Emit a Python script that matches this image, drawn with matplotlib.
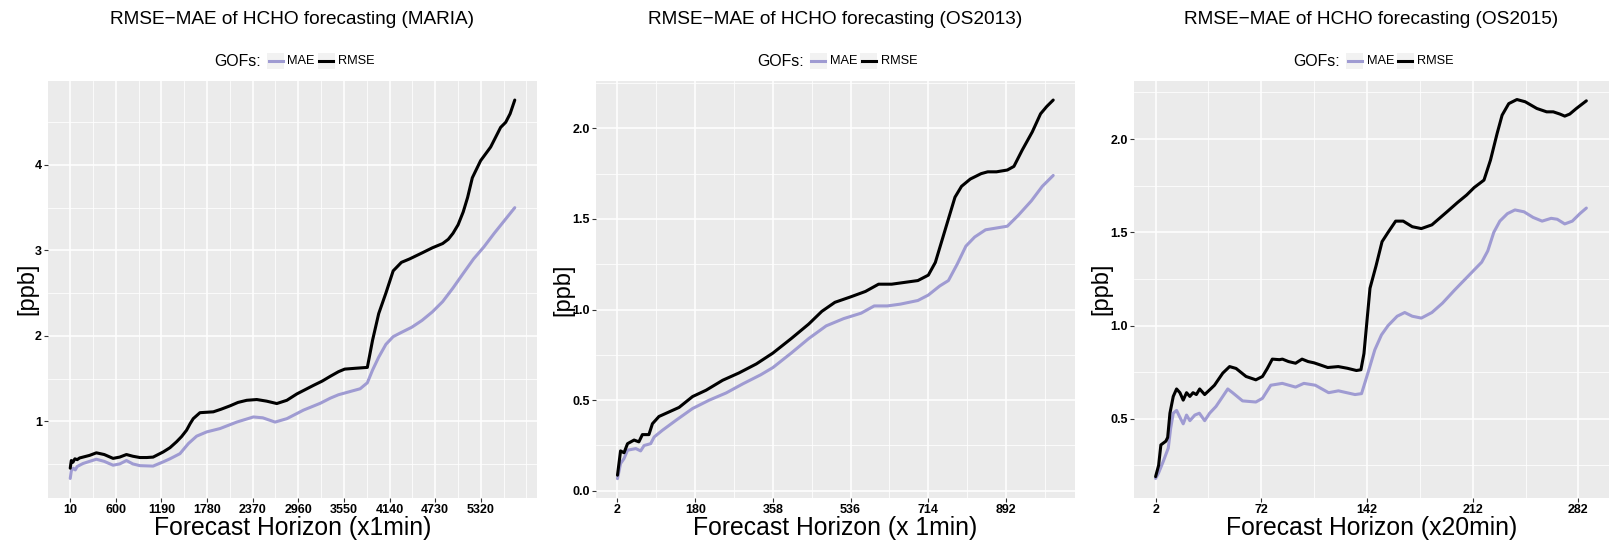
import matplotlib
matplotlib.use("Agg")
import matplotlib.pyplot as plt
from matplotlib.lines import Line2D
from matplotlib.patches import Rectangle

plt.rcParams['font.family'] = ['Liberation Sans', 'DejaVu Sans']

# ------------------------------------------------------------------ data
titles = ["RMSE\u2212MAE of HCHO forecasting (MARIA)",
          "RMSE\u2212MAE of HCHO forecasting (OS2013)",
          "RMSE\u2212MAE of HCHO forecasting (OS2015)"]
xlabels = ["Forecast Horizon (x1min)", "Forecast Horizon (x 1min)", "Forecast Horizon (x20min)"]
ylabel = "[ppb]"
legend_title = "GOFs:"
series_names = ["MAE", "RMSE"]

maria_xticks = [10, 600, 1190, 1780, 2370, 2960, 3550, 4140, 4730, 5320]
maria_yticks = [1, 2, 3, 4]
maria_yticklabels = ["1", "2", "3", "4"]
os13_xticks = [2, 180, 358, 536, 714, 892]
os13_yticks = [0.0, 0.5, 1.0, 1.5, 2.0]
os13_yticklabels = ["0.0", "0.5", "1.0", "1.5", "2.0"]
os15_xticks = [2, 72, 142, 212, 282]
os15_yticks = [0.5, 1.0, 1.5, 2.0]
os15_yticklabels = ["0.5", "1.0", "1.5", "2.0"]

maria_rmse_h = [10, 24, 45, 70, 100, 132, 175, 260, 348, 450, 564, 650, 737, 820, 910, 1000, 1082,
                1212, 1300, 1386, 1450, 1515, 1560, 1601, 1688, 1861, 1960, 2077, 2180, 2293, 2423,
                2550, 2682, 2812, 2942, 3050, 3157, 3270, 3374, 3480, 3560, 3700, 3853, 3921, 4000,
                4093, 4187, 4294, 4400, 4560, 4694, 4827, 4900, 4961, 5027, 5093, 5150,
                5211, 5318, 5448, 5577, 5643, 5700, 5760]
maria_rmse = [0.45, 0.54, 0.52, 0.56, 0.55, 0.57, 0.58, 0.60, 0.63, 0.61, 0.565, 0.58, 0.61, 0.59,
              0.575, 0.575, 0.58, 0.64, 0.69, 0.76, 0.82, 0.895, 0.97, 1.03, 1.10, 1.11, 1.14, 1.18,
              1.22, 1.245, 1.254, 1.235, 1.207, 1.245, 1.32, 1.37, 1.42, 1.47, 1.526, 1.58, 1.61,
              1.62, 1.63, 1.95, 2.26, 2.50, 2.76, 2.86, 2.90, 2.97, 3.03, 3.08, 3.13,
              3.2, 3.3, 3.45, 3.62, 3.85, 4.05, 4.21, 4.44, 4.50, 4.6, 4.76]
maria_mae_h = [10, 24, 50, 75, 100, 175, 260, 348, 450, 564, 650, 737, 820, 910, 1082, 1212, 1300,
               1429, 1540, 1645, 1775, 1947, 2164, 2379, 2500, 2660, 2812, 3027, 3244, 3374, 3480,
               3600, 3760, 3853, 3921, 4000, 4093, 4187, 4294, 4427, 4560, 4694, 4827,
               4961, 5093, 5227, 5360, 5494, 5627, 5760]
maria_mae = [0.33, 0.42, 0.45, 0.43, 0.47, 0.505, 0.53, 0.555, 0.53, 0.485, 0.50, 0.54, 0.50, 0.48,
             0.475, 0.524, 0.56, 0.62, 0.74, 0.825, 0.875, 0.914, 0.99, 1.05, 1.04, 0.99, 1.03,
             1.13, 1.21, 1.27, 1.31, 1.34, 1.38, 1.45, 1.60, 1.75, 1.90, 1.99, 2.04, 2.10,
             2.18, 2.28, 2.40, 2.56, 2.73, 2.9, 3.04, 3.2, 3.35, 3.50]

os13_rmse_h = [2, 9, 17, 25, 40, 51, 59, 74, 82, 97, 120, 143, 174, 205, 243, 280, 320, 358, 400,
               440, 470, 500, 536, 570, 600, 630, 660, 690, 714, 730, 745, 760, 775, 790, 810, 835,
               850, 870, 895, 910, 929, 952, 971, 985, 1000]
os13_rmse = [0.086, 0.22, 0.21, 0.26, 0.28, 0.27, 0.31, 0.31, 0.37, 0.41, 0.435, 0.46, 0.52, 0.555,
             0.61, 0.65, 0.70, 0.76, 0.84, 0.92, 0.99, 1.04, 1.07, 1.10, 1.14, 1.14, 1.15, 1.16,
             1.19, 1.26, 1.38, 1.5, 1.62, 1.68, 1.72, 1.75, 1.76, 1.76, 1.77, 1.79, 1.88, 1.98,
             2.08, 2.12, 2.156]
os13_mae_h = [2, 9, 17, 25, 44, 55, 63, 78, 86, 105, 136, 174, 212, 251, 289, 330, 358, 400, 440,
              480, 520, 560, 590, 620, 650, 690, 714, 740, 760, 780, 800, 820, 845, 870, 895, 920,
              950, 975, 1000]
os13_mae = [0.067, 0.15, 0.178, 0.224, 0.233, 0.22, 0.25, 0.26, 0.297, 0.334, 0.389, 0.454, 0.50,
            0.54, 0.59, 0.64, 0.68, 0.76, 0.84, 0.91, 0.95, 0.98, 1.02, 1.02, 1.03, 1.05, 1.08,
            1.13, 1.16, 1.25, 1.35, 1.40, 1.44, 1.45, 1.46, 1.52, 1.60, 1.68, 1.74]

os15_rmse_h = [2, 4, 5.5, 8.8, 10, 11.5, 13.7, 15.9, 18.1, 20.3, 22.5, 24.7, 26.8, 29, 31.2, 34.5,
               37.8, 41, 46.5, 51, 55.3, 61.9, 68.4, 72.8, 76, 79.3, 84, 86, 90, 94.7, 99, 103, 107,
               111, 116, 123, 129, 135, 138, 140, 144, 148, 152, 156, 161, 166, 172, 178, 185, 195,
               202, 208, 213, 219.5, 223.8, 228.2, 231.5, 235.9, 241.3, 246.8, 254.5, 261, 265.4,
               269.8, 273, 276.3, 280.7, 287.3]
os15_rmse = [0.19, 0.25, 0.36, 0.38, 0.40, 0.53, 0.62, 0.66, 0.64, 0.60, 0.64, 0.62, 0.64, 0.63,
             0.66, 0.63, 0.655, 0.68, 0.745, 0.78, 0.77, 0.727, 0.709, 0.727, 0.77, 0.82, 0.817,
             0.82, 0.807, 0.798, 0.82, 0.807, 0.80, 0.789, 0.775, 0.78, 0.771, 0.759, 0.763, 0.85,
             1.2, 1.32, 1.45, 1.50, 1.56, 1.56, 1.53, 1.52, 1.54, 1.61, 1.66, 1.70, 1.74, 1.78,
             1.887, 2.03, 2.128, 2.19, 2.212, 2.2, 2.164, 2.146, 2.146, 2.134, 2.123, 2.134, 2.164,
             2.205]
os15_mae_h = [2, 4, 7, 10.4, 12, 13.7, 15.9, 18, 20.3, 22.5, 24.7, 28, 31, 34.5, 37.8, 42, 46.5,
              49.8, 53, 59.6, 68.4, 72.8, 78.3, 85.9, 94.7, 100.2, 107.8, 116.6, 123.1, 134.1,
              138.4, 142.9, 147.2, 151.6, 156, 162, 167, 172, 178, 185, 192, 200, 206, 212, 218,
              222, 226, 230, 235, 240, 246, 252, 258, 264, 268, 273, 278, 283, 287.3]
os15_mae = [0.18, 0.21, 0.27, 0.343, 0.45, 0.53, 0.545, 0.51, 0.473, 0.52, 0.49, 0.52, 0.53, 0.49,
            0.53, 0.566, 0.62, 0.66, 0.64, 0.596, 0.59, 0.61, 0.68, 0.69, 0.67, 0.69, 0.68, 0.64,
            0.65, 0.63, 0.635, 0.753, 0.87, 0.95, 1.0, 1.05, 1.07, 1.05, 1.04, 1.07, 1.12, 1.19,
            1.24, 1.29, 1.34, 1.40, 1.50, 1.56, 1.60, 1.62, 1.61, 1.58, 1.56, 1.575, 1.57, 1.545,
            1.56, 1.60, 1.63]

# ------------------------------------------------------------------ style
MAE_COLOR = "#9F9BD2"
RMSE_COLOR = "#000000"
PANEL_BG = "#EBEBEB"

W, H, DPI = 1612, 540, 100
fig = plt.figure(figsize=(W / DPI, H / DPI), dpi=DPI)
fig.patch.set_facecolor("white")

# panel geometry in pixels: left, right, top, bottom
boxes = [(48, 537, 81, 497.5), (595.7, 1075, 81.2, 497.5), (1134, 1609, 80.5, 497.5)]
xlims = [(-277.5, 6047.5), (-47.9, 1049.9), (-12.3, 302.3)]
ylims = [(0.107, 4.983), (-0.037, 2.26), (0.078, 2.314)]
ylab_px = [27, 563, 1101]


def midpoints(ticks, lo, hi):
    step = ticks[1] - ticks[0]
    out = []
    t = ticks[0] - step / 2
    while t < hi:
        if t > lo:
            out.append(t)
        t += step
    return out


def add_grid(ax, xt, yt, xl, yl):
    xminor = midpoints(xt, *xl)
    step = xt[1] - xt[0]
    nxt = xt[-1] + step
    if nxt < xl[1]:
        xminor.append(nxt)
    yminor = midpoints(yt, *yl)
    ax.set_xticks(xminor, minor=True)
    ax.set_yticks(yminor, minor=True)
    ax.grid(which="major", color="white", linewidth=1.1)
    ax.grid(which="minor", color="white", linewidth=0.55)
    ax.tick_params(which="minor", length=0)


panels = [
    (maria_mae_h, maria_mae, maria_rmse_h, maria_rmse, maria_xticks, maria_yticks, maria_yticklabels),
    (os13_mae_h, os13_mae, os13_rmse_h, os13_rmse, os13_xticks, os13_yticks, os13_yticklabels),
    (os15_mae_h, os15_mae, os15_rmse_h, os15_rmse, os15_xticks, os15_yticks, os15_yticklabels),
]

for i, (mh, mv, rh, rv, xt, yt, ytl) in enumerate(panels):
    l, r, t, b = boxes[i]
    ax = fig.add_axes([l / W, 1 - b / H, (r - l) / W, (b - t) / H])
    ax.set_facecolor(PANEL_BG)
    for s in ax.spines.values():
        s.set_visible(False)
    ax.set_axisbelow(True)

    ax.plot(mh, mv, color=MAE_COLOR, linewidth=2.2, solid_joinstyle="round", solid_capstyle="round", label=series_names[0])
    ax.plot(rh, rv, color=RMSE_COLOR, linewidth=2.2, solid_joinstyle="round", solid_capstyle="round", label=series_names[1])

    ax.set_xlim(*xlims[i])
    ax.set_ylim(*ylims[i])
    ax.set_xticks(xt, labels=[str(v) for v in xt], fontsize=9, fontweight="bold")
    ax.set_yticks(yt, labels=ytl, fontsize=9, fontweight="bold")
    ax.tick_params(which="major", length=2.9, width=0.8, color="#333333", labelcolor="black", pad=1.5)
    add_grid(ax, xt, yt, xlims[i], ylims[i])

    ax.set_xlabel(xlabels[i], fontsize=17.8)
    ax.xaxis.set_label_coords(0.5, (b - 528) / (b - t))
    ax.xaxis.label.set_va("center")
    ax.set_ylabel(ylabel, fontsize=17)
    ax.yaxis.set_label_coords((ylab_px[i] - l) / (r - l), 0.5)
    ax.yaxis.label.set_va("center")

    ax.set_title(titles[i], fontsize=13.7, y=(b - 20) / (b - t), va="center", pad=0)

    # legend above panel (ggplot style, horizontal)
    cx = (l + r) / 2
    ly = 61
    fig.text((cx - 78) / W, 1 - ly / H, legend_title, fontsize=11.4, ha="left", va="center")
    keys = [(cx - 25.5, MAE_COLOR, series_names[0], cx - 5.0),
            (cx + 25.0, RMSE_COLOR, series_names[1], cx + 45.5)]
    for kx, col, name, tx in keys:
        fig.add_artist(Rectangle((kx / W, 1 - (ly + 7.5) / H), 17 / W, 15 / H,
                                 transform=fig.transFigure, facecolor="#F2F2F2", edgecolor="none"))
        fig.add_artist(Line2D([(kx + 1.5) / W, (kx + 15.5) / W], [1 - ly / H, 1 - ly / H],
                              transform=fig.transFigure, color=col, linewidth=2.2))
        fig.text(tx / W, 1 - ly / H, name, fontsize=9.2, ha="left", va="center")

fig.savefig("out.png", dpi=DPI, facecolor="white")
